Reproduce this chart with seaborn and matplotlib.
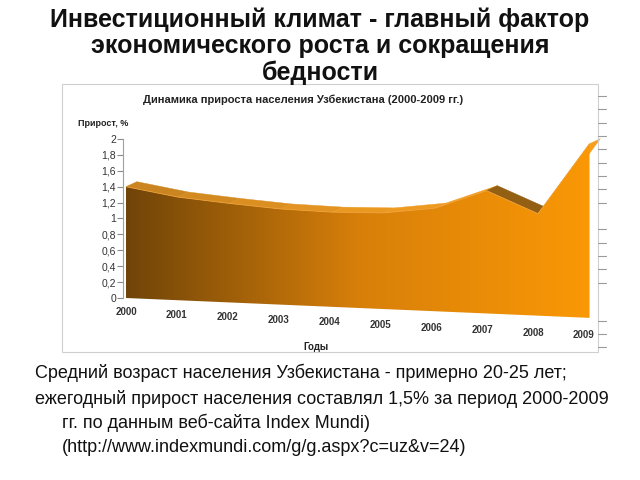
import numpy as np
import matplotlib
matplotlib.use("Agg")
import matplotlib.pyplot as plt
from matplotlib.colors import LinearSegmentedColormap
from matplotlib.patches import Polygon, Rectangle
from matplotlib.lines import Line2D
from matplotlib.ticker import FuncFormatter
import seaborn as sns

# data
years = ["2000", "2001", "2002", "2003", "2004", "2005", "2006", "2007", "2008", "2009"]
growth = [1.40, 1.27, 1.19, 1.12, 1.08, 1.07, 1.13, 1.35, 1.06, 1.94]
y_ticks = [0, 0.2, 0.4, 0.6, 0.8, 1.0, 1.2, 1.4, 1.6, 1.8, 2.0]

slide_title = ["Инвестиционный климат - главный фактор",
               "экономического роста и сокращения",
               "бедности"]
chart_title = "Динамика прироста населения Узбекистана (2000-2009 гг.)"
y_label = "Прирост, %"
x_label = "Годы"
body_lines = ["Средний возраст населения Узбекистана - примерно 20-25 лет;",
              "ежегодный прирост населения составлял 1,5% за период 2000-2009",
              "гг. по данным веб-сайта Index Mundi)",
              "(http://www.indexmundi.com/g/g.aspx?c=uz&v=24)"]

sns.set_style("white")
plt.rcParams["font.family"] = ["Liberation Sans", "DejaVu Sans"]

fig = plt.figure(figsize=(6.4, 4.8), dpi=100)


def px(x, y):
    # pixel position -> figure fraction
    return x / 640, 1 - y / 480


# slide title
for k, line in enumerate(slide_title):
    fig.text(*px(320, 20 + 26.5 * k), line, ha="center", va="center",
             fontsize=18, fontweight="bold", color="#111111")

# chart frame and the tick strip on its right
fig.patches.append(Rectangle(px(62, 352), 536 / 640, 268 / 480, transform=fig.transFigure,
                             fill=False, edgecolor="#cfcfcf", lw=0.8))
for ty in [96, 109, 123, 136, 149, 163, 176, 189, 203, 229, 243, 256, 269, 283, 321, 334, 347]:
    fig.lines.append(Line2D([598 / 640, 606 / 640], [1 - ty / 480] * 2,
                            transform=fig.transFigure, color="#9a9a9a", lw=0.8))

fig.text(*px(303, 100), chart_title, ha="center", va="center", fontsize=8,
         fontweight="bold", color="#222222")
fig.text(*px(78, 123), y_label, ha="left", va="center", fontsize=6.5,
         fontweight="bold", color="#222222")
fig.text(*px(316, 347), x_label, ha="center", va="center", fontsize=7,
         fontweight="bold", color="#222222")

ax = fig.add_axes([100 / 640, 130 / 480, 520 / 640, 260 / 480])
ax.patch.set_alpha(0)

xs = np.arange(len(years))
vals = np.array(growth)
tilt = 0.25            # 3d look: floor sinks towards the right
base = -tilt * xs / (len(xs) - 1)
dx, dy = 0.21, 0.063   # depth of the top face

c_dark = np.array([112, 68, 8]) / 255
c_mid = np.array([215, 127, 10]) / 255
c_light = np.array([250, 152, 5]) / 255
c_top = np.array([246, 165, 45]) / 255
cmap = LinearSegmentedColormap.from_list("orng", [c_dark, c_mid, c_light])


def col_at(x, lift=0.0, dark=0.0):
    c = np.array(cmap(x / (len(xs) - 1))[:3])
    c = c + (c_top - c) * lift
    return tuple(np.clip(c * (1 - dark), 0, 1))


# top face of the ribbon
for i in range(len(xs) - 1):
    slope = vals[i + 1] - vals[i]
    fc = col_at(i + 0.5, lift=0.65, dark=0.4 if slope < -0.2 else 0.0)
    quad = [(xs[i], vals[i]), (xs[i + 1], vals[i + 1]),
            (xs[i + 1] + dx, vals[i + 1] + dy), (xs[i] + dx, vals[i] + dy)]
    ax.add_patch(Polygon(quad, closed=True, facecolor=fc, edgecolor=fc, lw=0.3, zorder=1))

# front face with a left-to-right gradient
grad = np.linspace(0, 1, 256).reshape(1, -1)
im = ax.imshow(grad, extent=[0, len(xs) - 1, -tilt - 0.05, 2.1], aspect="auto",
               cmap=cmap, zorder=2, interpolation="bilinear")
front = ax.fill_between(xs, base, vals, facecolor="none", edgecolor="none", zorder=3)
im.set_clip_path(front.get_paths()[0], transform=ax.transData)
sns.lineplot(x=xs, y=vals, ax=ax, color="#f0a238", lw=0.6, zorder=4)

ax.set_xlim(-0.505, 9.592)
ax.set_ylim(-0.654, 2.616)

# y axis
for s in ["top", "right", "bottom"]:
    ax.spines[s].set_visible(False)
ax.spines["left"].set_position(("data", -0.06))
ax.spines["left"].set_bounds(0, 2)
ax.spines["left"].set_color("#a0a0a0")
ax.spines["left"].set_linewidth(0.8)
ax.set_yticks(y_ticks)
ax.yaxis.set_major_formatter(FuncFormatter(lambda v, p: f"{v:g}".replace(".", ",")))
ax.tick_params(axis="y", left=True, length=4, width=0.8, color="#8a8a8a",
               labelsize=7.5, labelcolor="#333333", pad=1)
ax.set_xticks([])

# year labels follow the sinking floor
for i, yr in enumerate(years):
    ax.text(i - 0.012 * i, -0.18 - 0.032 * i, yr, ha="center", va="center",
            fontsize=7, fontweight="bold", color="#333333")

# text under the chart
body_pos = [(35, 373), (35, 399), (62, 423), (62, 447)]
for (bx, by), line in zip(body_pos, body_lines):
    fig.text(*px(bx, by), line, ha="left", va="center", fontsize=13, color="#111111")

fig.savefig("out.png", dpi=100)
